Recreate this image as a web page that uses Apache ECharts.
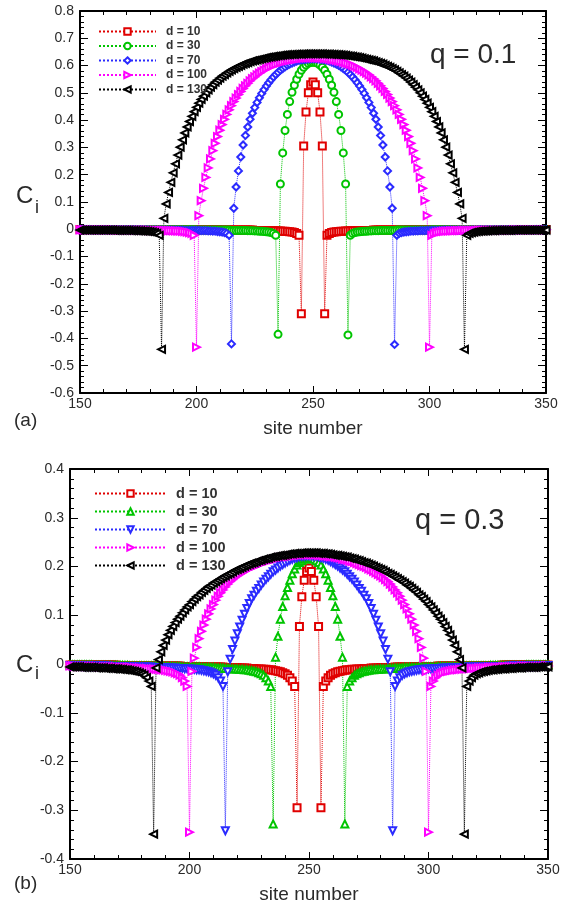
<!DOCTYPE html>
<html>
<head>
<meta charset="utf-8">
<script src="https://cdn.jsdelivr.net/npm/echarts@6/dist/echarts.min.js"></script>
<style>
  html, body { margin: 0; padding: 0; background: #fff; }
  #chart { width: 572px; height: 903px; }
</style>
</head>
<body>
<div id="chart"></div>
<script>
// site numbers 150..350 (x values shared by every series)
const sites = [];
for (let s = 150; s <= 350; s++) sites.push(s);

// ---- panel (a), q = 0.1 : C_i for sites 150..350 ----
const a_d10 = [
  -0.001,-0.001,-0.001,-0.001,-0.001,-0.001,-0.001,-0.001,-0.001,-0.001,
  -0.001,-0.001,-0.001,-0.001,-0.001,-0.001,-0.001,-0.001,-0.001,-0.001,
  -0.001,-0.001,-0.001,-0.001,-0.001,-0.001,-0.001,-0.001,-0.001,-0.001,
  -0.001,-0.001,-0.001,-0.001,-0.001,
  -0.002,-0.002,-0.002,-0.002,-0.002,-0.002,-0.002,-0.002,-0.002,-0.002,
  -0.002,-0.002,-0.002,-0.002,-0.002,-0.002,-0.002,-0.002,-0.002,-0.002,
  -0.002,-0.002,-0.002,-0.002,-0.002,
  -0.003,-0.003,-0.003,-0.003,-0.003,-0.003,-0.003,-0.003,-0.003,-0.003,
  -0.003,-0.003,-0.003,-0.003,-0.003,
  -0.004,-0.004,-0.004,-0.004,-0.004,-0.004,-0.004,
  -0.005,-0.005,-0.005,-0.006,-0.006,-0.007,-0.007,-0.008,-0.009,-0.010,-0.012,-0.015,-0.022,
  -0.31,0.305,0.43,0.50,0.53,0.54,0.53,0.50,0.43,0.305,-0.31,
  -0.022,-0.015,-0.012,-0.010,-0.009,-0.008,-0.007,-0.007,-0.006,-0.006,-0.005,-0.005,-0.005,
  -0.004,-0.004,-0.004,-0.004,-0.004,-0.004,-0.004,
  -0.003,-0.003,-0.003,-0.003,-0.003,-0.003,-0.003,-0.003,-0.003,-0.003,
  -0.003,-0.003,-0.003,-0.003,-0.003,
  -0.002,-0.002,-0.002,-0.002,-0.002,-0.002,-0.002,-0.002,-0.002,-0.002,
  -0.002,-0.002,-0.002,-0.002,-0.002,-0.002,-0.002,-0.002,-0.002,-0.002,
  -0.002,-0.002,-0.002,-0.002,-0.002,
  -0.001,-0.001,-0.001,-0.001,-0.001,-0.001,-0.001,-0.001,-0.001,-0.001,
  -0.001,-0.001,-0.001,-0.001,-0.001,-0.001,-0.001,-0.001,-0.001,-0.001,
  -0.001,-0.001,-0.001,-0.001,-0.001,-0.001,-0.001,-0.001,-0.001,-0.001,
  -0.001,-0.001,-0.001,-0.001,-0.001
];
const a_d30 = [
  -0.001,-0.001,-0.001,-0.001,-0.001,-0.001,-0.001,-0.001,-0.001,-0.001,
  -0.001,-0.001,-0.001,-0.001,-0.001,-0.001,-0.001,-0.001,-0.001,-0.001,
  -0.001,-0.001,-0.001,-0.001,-0.001,
  -0.002,-0.002,-0.002,-0.002,-0.002,-0.002,-0.002,-0.002,-0.002,-0.002,
  -0.002,-0.002,-0.002,-0.002,-0.002,-0.002,-0.002,-0.002,-0.002,-0.002,
  -0.002,-0.002,-0.002,-0.002,-0.002,
  -0.003,-0.003,-0.003,-0.003,-0.003,-0.003,-0.003,-0.003,-0.003,-0.003,
  -0.003,-0.003,-0.003,-0.003,-0.003,
  -0.004,-0.004,-0.004,-0.004,-0.004,-0.004,-0.004,
  -0.005,-0.005,-0.005,-0.006,-0.006,-0.007,-0.007,-0.008,-0.009,-0.010,-0.012,-0.015,-0.022,
  -0.385,
  0.166,0.28,0.362,0.421,0.468,0.502,0.528,0.55,0.568,0.583,0.594,0.602,0.608,0.611,0.612,
  0.611,0.608,0.602,0.594,0.583,0.568,0.55,0.528,0.502,0.468,0.421,0.362,0.28,0.166,
  -0.387,
  -0.022,-0.015,-0.012,-0.010,-0.009,-0.008,-0.007,-0.007,-0.006,-0.006,-0.005,-0.005,-0.005,
  -0.004,-0.004,-0.004,-0.004,-0.004,-0.004,-0.004,
  -0.003,-0.003,-0.003,-0.003,-0.003,-0.003,-0.003,-0.003,-0.003,-0.003,
  -0.003,-0.003,-0.003,-0.003,-0.003,
  -0.002,-0.002,-0.002,-0.002,-0.002,-0.002,-0.002,-0.002,-0.002,-0.002,
  -0.002,-0.002,-0.002,-0.002,-0.002,-0.002,-0.002,-0.002,-0.002,-0.002,
  -0.002,-0.002,-0.002,-0.002,-0.002,
  -0.001,-0.001,-0.001,-0.001,-0.001,-0.001,-0.001,-0.001,-0.001,-0.001,
  -0.001,-0.001,-0.001,-0.001,-0.001,-0.001,-0.001,-0.001,-0.001,-0.001,
  -0.001,-0.001,-0.001,-0.001,-0.001
];
const a_d70 = [
  -0.001,-0.001,-0.001,-0.001,-0.001,
  -0.002,-0.002,-0.002,-0.002,-0.002,-0.002,-0.002,-0.002,-0.002,-0.002,
  -0.002,-0.002,-0.002,-0.002,-0.002,-0.002,-0.002,-0.002,-0.002,-0.002,
  -0.002,-0.002,-0.002,-0.002,-0.002,
  -0.003,-0.003,-0.003,-0.003,-0.003,-0.003,-0.003,-0.003,-0.003,-0.003,
  -0.003,-0.003,-0.003,-0.003,-0.003,
  -0.004,-0.004,-0.004,-0.004,-0.004,-0.004,-0.004,
  -0.005,-0.005,-0.005,-0.006,-0.006,-0.007,-0.007,-0.008,-0.009,-0.010,-0.012,-0.015,-0.022,
  -0.42,
  0.077,0.155,0.214,0.265,0.309,0.344,0.375,0.403,0.425,0.446,0.465,0.482,0.498,0.512,0.525,0.537,0.548,
  0.558,0.567,0.575,0.583,0.589,0.595,0.601,0.605,0.609,0.613,0.616,0.619,0.621,0.622,0.623,0.624,0.625,
  0.625,
  0.625,0.624,0.623,0.622,0.621,0.619,0.616,0.613,0.609,0.605,0.601,0.595,0.589,0.583,0.575,0.567,0.558,
  0.548,0.537,0.525,0.512,0.498,0.482,0.465,0.446,0.425,0.403,0.375,0.344,0.309,0.265,0.214,0.155,0.077,
  -0.422,
  -0.022,-0.015,-0.012,-0.010,-0.009,-0.008,-0.007,-0.007,-0.006,-0.006,-0.005,-0.005,-0.005,
  -0.004,-0.004,-0.004,-0.004,-0.004,-0.004,-0.004,
  -0.003,-0.003,-0.003,-0.003,-0.003,-0.003,-0.003,-0.003,-0.003,-0.003,
  -0.003,-0.003,-0.003,-0.003,-0.003,
  -0.002,-0.002,-0.002,-0.002,-0.002,-0.002,-0.002,-0.002,-0.002,-0.002,
  -0.002,-0.002,-0.002,-0.002,-0.002,-0.002,-0.002,-0.002,-0.002,-0.002,
  -0.002,-0.002,-0.002,-0.002,-0.002,
  -0.001,-0.001,-0.001,-0.001,-0.001
];
const a_d100 = [
  -0.002,-0.002,-0.002,-0.002,-0.002,-0.002,-0.002,-0.002,-0.002,-0.002,
  -0.002,-0.002,-0.002,-0.002,-0.002,
  -0.003,-0.003,-0.003,-0.003,-0.003,-0.003,-0.003,-0.003,-0.003,-0.003,
  -0.003,-0.003,-0.003,-0.003,-0.003,
  -0.004,-0.004,-0.004,-0.004,-0.004,-0.004,-0.004,
  -0.005,-0.005,-0.005,-0.006,-0.006,-0.007,-0.007,-0.008,-0.009,-0.010,-0.012,-0.015,-0.022,
  -0.432,
  0.05,0.105,0.15,0.19,0.225,0.258,0.288,0.315,0.34,0.363,0.384,0.403,0.421,0.438,0.453,0.468,0.481,
  0.494,0.505,0.516,0.526,0.535,0.544,0.552,0.559,0.566,0.572,0.578,0.583,0.588,0.593,0.597,0.601,
  0.604,0.607,0.61,0.613,0.615,0.617,0.619,0.621,0.622,0.624,0.625,0.626,0.627,0.627,0.628,0.628,
  0.628,
  0.628,0.628,0.627,0.627,0.626,0.625,0.624,0.622,0.621,0.619,0.617,0.615,0.613,0.61,0.607,0.604,
  0.601,0.597,0.593,0.588,0.583,0.578,0.572,0.566,0.559,0.552,0.544,0.535,0.526,0.516,0.505,0.494,
  0.481,0.468,0.453,0.438,0.421,0.403,0.384,0.363,0.34,0.315,0.288,0.258,0.225,0.19,0.15,0.105,0.05,
  -0.432,
  -0.022,-0.015,-0.012,-0.010,-0.009,-0.008,-0.007,-0.007,-0.006,-0.006,-0.005,-0.005,-0.005,
  -0.004,-0.004,-0.004,-0.004,-0.004,-0.004,-0.004,
  -0.003,-0.003,-0.003,-0.003,-0.003,-0.003,-0.003,-0.003,-0.003,-0.003,
  -0.003,-0.003,-0.003,-0.003,-0.003,
  -0.002,-0.002,-0.002,-0.002,-0.002,-0.002,-0.002,-0.002,-0.002,-0.002,
  -0.002,-0.002,-0.002,-0.002,-0.002
];
const a_d130 = [
  -0.003,-0.003,-0.003,-0.003,-0.003,-0.003,-0.003,-0.003,-0.003,-0.003,
  -0.003,-0.003,-0.003,-0.003,-0.003,
  -0.004,-0.004,-0.004,-0.004,-0.004,-0.004,-0.004,
  -0.005,-0.005,-0.005,-0.006,-0.006,-0.007,-0.007,-0.008,-0.009,-0.010,-0.012,-0.015,-0.022,
  -0.44,
  0.04,0.093,0.135,0.172,0.207,0.24,0.272,0.301,0.328,0.353,0.375,0.395,0.414,0.431,0.447,0.462,
  0.476,0.488,0.5,0.511,0.521,0.53,0.539,0.547,0.554,0.561,0.567,0.573,0.579,0.584,0.589,0.593,
  0.597,0.601,0.605,0.608,0.611,0.614,0.617,0.619,0.621,0.623,0.625,0.627,0.629,0.631,0.632,0.634,
  0.635,0.636,0.637,0.638,0.639,0.64,0.64,0.641,0.641,0.642,0.642,0.642,0.643,0.643,0.643,0.643,
  0.643,
  0.643,0.643,0.643,0.643,0.642,0.642,0.642,0.641,0.641,0.64,0.64,0.639,0.638,0.637,0.636,0.635,
  0.634,0.632,0.631,0.629,0.627,0.625,0.623,0.621,0.619,0.617,0.614,0.611,0.608,0.605,0.601,0.597,
  0.593,0.589,0.584,0.579,0.573,0.567,0.561,0.554,0.547,0.539,0.53,0.521,0.511,0.5,0.488,0.476,
  0.462,0.447,0.431,0.414,0.395,0.375,0.353,0.328,0.301,0.272,0.24,0.207,0.172,0.135,0.093,0.04,
  -0.44,
  -0.022,-0.015,-0.012,-0.010,-0.009,-0.008,-0.007,-0.007,-0.006,-0.006,-0.005,-0.005,-0.005,
  -0.004,-0.004,-0.004,-0.004,-0.004,-0.004,-0.004,
  -0.003,-0.003,-0.003,-0.003,-0.003,-0.003,-0.003,-0.003,-0.003,-0.003,
  -0.003,-0.003,-0.003,-0.003,-0.003
];

// ---- panel (b), q = 0.3 ----
const b_d10 = [
  -0.002,-0.002,-0.002,-0.002,-0.002,-0.002,-0.002,-0.002,-0.002,-0.002,
  -0.002,-0.002,-0.002,-0.002,-0.002,-0.002,-0.002,-0.002,-0.002,-0.002,
  -0.003,-0.003,-0.003,-0.003,-0.003,-0.003,-0.003,-0.003,-0.003,-0.003,
  -0.003,-0.003,-0.003,-0.003,-0.003,
  -0.004,-0.004,-0.004,-0.004,-0.004,-0.004,-0.004,-0.004,-0.004,-0.004,-0.004,-0.004,
  -0.005,-0.005,-0.005,-0.005,-0.005,-0.005,-0.005,-0.005,-0.005,-0.005,
  -0.006,-0.006,-0.006,-0.006,-0.006,-0.006,-0.006,-0.006,
  -0.007,-0.007,-0.007,-0.007,-0.007,-0.007,
  -0.008,-0.008,-0.008,-0.008,
  -0.009,-0.009,-0.009,-0.010,-0.010,-0.010,-0.011,-0.011,-0.012,-0.012,
  -0.013,-0.014,-0.015,-0.016,-0.018,-0.020,-0.023,-0.028,-0.035,-0.046,
  -0.295,0.077,0.138,0.172,0.19,0.197,0.19,0.172,0.138,0.077,-0.295,
  -0.046,-0.035,-0.028,-0.023,-0.020,-0.018,-0.016,-0.015,-0.014,-0.013,
  -0.012,-0.012,-0.011,-0.011,-0.010,-0.010,-0.010,-0.009,-0.009,-0.009,
  -0.008,-0.008,-0.008,-0.008,
  -0.007,-0.007,-0.007,-0.007,-0.007,-0.007,
  -0.006,-0.006,-0.006,-0.006,-0.006,-0.006,-0.006,-0.006,
  -0.005,-0.005,-0.005,-0.005,-0.005,-0.005,-0.005,-0.005,-0.005,-0.005,
  -0.004,-0.004,-0.004,-0.004,-0.004,-0.004,-0.004,-0.004,-0.004,-0.004,-0.004,-0.004,
  -0.003,-0.003,-0.003,-0.003,-0.003,-0.003,-0.003,-0.003,-0.003,-0.003,
  -0.003,-0.003,-0.003,-0.003,-0.003,
  -0.002,-0.002,-0.002,-0.002,-0.002,-0.002,-0.002,-0.002,-0.002,-0.002,
  -0.002,-0.002,-0.002,-0.002,-0.002,-0.002,-0.002,-0.002,-0.002,-0.002
];
const b_d30 = [
  -0.002,-0.002,-0.002,-0.002,-0.002,-0.002,-0.002,-0.002,-0.002,-0.002,
  -0.003,-0.003,-0.003,-0.003,-0.003,-0.003,-0.003,-0.003,-0.003,-0.003,
  -0.003,-0.003,-0.003,-0.003,-0.003,
  -0.004,-0.004,-0.004,-0.004,-0.004,-0.004,-0.004,-0.004,-0.004,-0.004,-0.004,-0.004,
  -0.005,-0.005,-0.005,-0.005,-0.005,-0.005,-0.005,-0.005,-0.005,-0.005,
  -0.006,-0.006,-0.006,-0.006,-0.006,-0.006,-0.006,-0.006,
  -0.007,-0.007,-0.007,-0.007,-0.007,-0.007,
  -0.008,-0.008,-0.008,-0.008,
  -0.009,-0.009,-0.009,-0.010,-0.010,-0.010,-0.011,-0.011,-0.012,-0.012,
  -0.013,-0.014,-0.015,-0.016,-0.018,-0.020,-0.023,-0.028,-0.035,-0.046,
  -0.328,
  0.014,0.057,0.092,0.118,0.14,0.157,0.172,0.185,0.195,0.203,0.208,0.212,0.215,0.217,0.218,
  0.217,0.215,0.212,0.208,0.203,0.195,0.185,0.172,0.157,0.14,0.118,0.092,0.057,0.014,
  -0.328,
  -0.046,-0.035,-0.028,-0.023,-0.020,-0.018,-0.016,-0.015,-0.014,-0.013,
  -0.012,-0.012,-0.011,-0.011,-0.010,-0.010,-0.010,-0.009,-0.009,-0.009,
  -0.008,-0.008,-0.008,-0.008,
  -0.007,-0.007,-0.007,-0.007,-0.007,-0.007,
  -0.006,-0.006,-0.006,-0.006,-0.006,-0.006,-0.006,-0.006,
  -0.005,-0.005,-0.005,-0.005,-0.005,-0.005,-0.005,-0.005,-0.005,-0.005,
  -0.004,-0.004,-0.004,-0.004,-0.004,-0.004,-0.004,-0.004,-0.004,-0.004,-0.004,-0.004,
  -0.003,-0.003,-0.003,-0.003,-0.003,-0.003,-0.003,-0.003,-0.003,-0.003,
  -0.003,-0.003,-0.003,-0.003,-0.003,
  -0.002,-0.002,-0.002,-0.002,-0.002,-0.002,-0.002,-0.002,-0.002,-0.002
];
const b_d70 = [
  -0.003,-0.003,-0.003,-0.003,-0.003,
  -0.004,-0.004,-0.004,-0.004,-0.004,-0.004,-0.004,-0.004,-0.004,-0.004,-0.004,-0.004,
  -0.005,-0.005,-0.005,-0.005,-0.005,-0.005,-0.005,-0.005,-0.005,-0.005,
  -0.006,-0.006,-0.006,-0.006,-0.006,-0.006,-0.006,-0.006,
  -0.007,-0.007,-0.007,-0.007,-0.007,-0.007,
  -0.008,-0.008,-0.008,-0.008,
  -0.009,-0.009,-0.009,-0.010,-0.010,-0.010,-0.011,-0.011,-0.012,-0.012,
  -0.013,-0.014,-0.015,-0.016,-0.018,-0.020,-0.023,-0.028,-0.035,-0.046,
  -0.342,
  -0.016,0.01,0.03,0.047,0.062,0.076,0.09,0.102,0.114,0.124,0.134,0.141,0.149,0.155,0.162,0.168,0.174,
  0.179,0.184,0.189,0.193,0.197,0.201,0.204,0.207,0.21,0.213,0.215,0.217,0.218,0.22,0.221,0.221,0.222,
  0.222,
  0.222,0.221,0.221,0.22,0.218,0.217,0.215,0.213,0.21,0.207,0.204,0.201,0.197,0.193,0.189,0.184,0.179,
  0.174,0.168,0.162,0.155,0.149,0.141,0.134,0.124,0.114,0.102,0.09,0.076,0.062,0.047,0.03,0.01,-0.016,
  -0.342,
  -0.046,-0.035,-0.028,-0.023,-0.020,-0.018,-0.016,-0.015,-0.014,-0.013,
  -0.012,-0.012,-0.011,-0.011,-0.010,-0.010,-0.010,-0.009,-0.009,-0.009,
  -0.008,-0.008,-0.008,-0.008,
  -0.007,-0.007,-0.007,-0.007,-0.007,-0.007,
  -0.006,-0.006,-0.006,-0.006,-0.006,-0.006,-0.006,-0.006,
  -0.005,-0.005,-0.005,-0.005,-0.005,-0.005,-0.005,-0.005,-0.005,-0.005,
  -0.004,-0.004,-0.004,-0.004,-0.004,-0.004,-0.004,-0.004,-0.004,-0.004,-0.004,-0.004,
  -0.003,-0.003,-0.003,-0.003,-0.003
];
const b_d100 = [
  -0.004,-0.004,
  -0.005,-0.005,-0.005,-0.005,-0.005,-0.005,-0.005,-0.005,-0.005,-0.005,
  -0.006,-0.006,-0.006,-0.006,-0.006,-0.006,-0.006,-0.006,
  -0.007,-0.007,-0.007,-0.007,-0.007,-0.007,
  -0.008,-0.008,-0.008,-0.008,
  -0.009,-0.009,-0.009,-0.010,-0.010,-0.010,-0.011,-0.011,-0.012,-0.012,
  -0.013,-0.014,-0.015,-0.016,-0.018,-0.020,-0.023,-0.028,-0.035,-0.046,
  -0.345,
  -0.015,0.012,0.034,0.052,0.067,0.08,0.092,0.103,0.113,0.122,0.131,0.139,0.146,0.152,0.158,0.164,0.169,
  0.173,0.177,0.181,0.184,0.187,0.19,0.193,0.195,0.198,0.2,0.202,0.204,0.206,0.208,0.21,0.211,
  0.213,0.214,0.215,0.217,0.218,0.219,0.22,0.22,0.221,0.222,0.222,0.223,0.223,0.224,0.224,0.224,
  0.224,
  0.224,0.224,0.224,0.223,0.223,0.222,0.222,0.221,0.22,0.22,0.219,0.218,0.217,0.215,0.214,0.213,
  0.211,0.21,0.208,0.206,0.204,0.202,0.2,0.198,0.195,0.193,0.19,0.187,0.184,0.181,0.177,0.173,
  0.169,0.164,0.158,0.152,0.146,0.139,0.131,0.122,0.113,0.103,0.092,0.08,0.067,0.052,0.034,0.012,-0.015,
  -0.345,
  -0.046,-0.035,-0.028,-0.023,-0.020,-0.018,-0.016,-0.015,-0.014,-0.013,
  -0.012,-0.012,-0.011,-0.011,-0.010,-0.010,-0.010,-0.009,-0.009,-0.009,
  -0.008,-0.008,-0.008,-0.008,
  -0.007,-0.007,-0.007,-0.007,-0.007,-0.007,
  -0.006,-0.006,-0.006,-0.006,-0.006,-0.006,-0.006,-0.006,
  -0.005,-0.005,-0.005,-0.005,-0.005,-0.005,-0.005,-0.005,-0.005,-0.005,
  -0.004,-0.004
];
const b_d130 = [
  -0.006,-0.006,-0.006,-0.006,-0.006,
  -0.007,-0.007,-0.007,-0.007,-0.007,-0.007,
  -0.008,-0.008,-0.008,-0.008,
  -0.009,-0.009,-0.009,-0.010,-0.010,-0.010,-0.011,-0.011,-0.012,-0.012,
  -0.013,-0.014,-0.015,-0.016,-0.018,-0.020,-0.023,-0.028,-0.035,-0.046,
  -0.349,
  -0.008,0.009,0.025,0.038,0.049,0.06,0.069,0.077,0.085,0.092,0.098,0.105,0.111,0.117,0.122,0.128,
  0.133,0.138,0.142,0.147,0.151,0.155,0.159,0.162,0.166,0.169,0.172,0.175,0.178,0.181,0.184,0.186,
  0.189,0.192,0.194,0.196,0.198,0.201,0.203,0.205,0.207,0.208,0.21,0.212,0.213,0.215,0.216,0.217,
  0.219,0.22,0.221,0.222,0.223,0.223,0.224,0.225,0.226,0.226,0.227,0.227,0.227,0.228,0.228,0.228,
  0.228,
  0.228,0.228,0.228,0.227,0.227,0.227,0.226,0.226,0.225,0.224,0.223,0.223,0.222,0.221,0.22,0.219,
  0.217,0.216,0.215,0.213,0.212,0.21,0.208,0.207,0.205,0.203,0.201,0.198,0.196,0.194,0.192,0.189,
  0.186,0.184,0.181,0.178,0.175,0.172,0.169,0.166,0.162,0.159,0.155,0.151,0.147,0.142,0.138,0.133,
  0.128,0.122,0.117,0.111,0.105,0.098,0.092,0.085,0.077,0.069,0.06,0.049,0.038,0.025,0.009,-0.008,
  -0.349,
  -0.046,-0.035,-0.028,-0.023,-0.020,-0.018,-0.016,-0.015,-0.014,-0.013,
  -0.012,-0.012,-0.011,-0.011,-0.010,-0.010,-0.010,-0.009,-0.009,-0.009,
  -0.008,-0.008,-0.008,-0.008,
  -0.007,-0.007,-0.007,-0.007,-0.007,-0.007,
  -0.006,-0.006,-0.006,-0.006,-0.006
];

const FONT = 'Liberation Sans, Arial, Helvetica, sans-serif';
const TXT = '#2a2a2a';
const RED = '#e00000', GREEN = '#00c400', BLUE = '#2b2bff', MAGENTA = '#ff00ff', BLACK = '#000000';

const seriesA = [
  { name: 'a10', values: a_d10, color: RED, symbol: 'emptyRect', rotate: 0 },
  { name: 'a30', values: a_d30, color: GREEN, symbol: 'emptyCircle', rotate: 0 },
  { name: 'a70', values: a_d70, color: BLUE, symbol: 'emptyDiamond', rotate: 0 },
  { name: 'a100', values: a_d100, color: MAGENTA, symbol: 'emptyTriangle', rotate: -90 },
  { name: 'a130', values: a_d130, color: BLACK, symbol: 'emptyTriangle', rotate: 90 }
];
const seriesB = [
  { name: 'b10', values: b_d10, color: RED, symbol: 'emptyRect', rotate: 0 },
  { name: 'b30', values: b_d30, color: GREEN, symbol: 'emptyTriangle', rotate: 0 },
  { name: 'b70', values: b_d70, color: BLUE, symbol: 'emptyTriangle', rotate: 180 },
  { name: 'b100', values: b_d100, color: MAGENTA, symbol: 'emptyTriangle', rotate: -90 },
  { name: 'b130', values: b_d130, color: BLACK, symbol: 'emptyTriangle', rotate: 90 }
];

[...seriesA, ...seriesB].forEach(s => {
  if (s.values.length !== sites.length) throw new Error(s.name + ' has ' + s.values.length + ' values');
});

function makeLine(s, axisIdx) {
  return {
    name: s.name,
    type: 'line',
    xAxisIndex: axisIdx,
    yAxisIndex: axisIdx,
    data: s.values.map((v, i) => [sites[i], v]),
    symbol: s.symbol,
    symbolSize: 7,
    symbolRotate: s.rotate,
    showSymbol: true,
    lineStyle: { color: s.color, width: 1, type: 'dotted' },
    itemStyle: { color: s.color, borderColor: s.color, borderWidth: 1 },
    emphasis: { disabled: true },
    animation: false,
    silent: true
  };
}

function xAxis(grid, pos, labels) {
  return {
    type: 'value', gridIndex: grid, position: pos,
    min: 150, max: 350, interval: 50,
    axisLine: { show: true, onZero: false, lineStyle: { color: '#000', width: 2 } },
    axisTick: { show: true, inside: true, length: 7, lineStyle: { color: '#000', width: 1 } },
    minorTick: { show: true, splitNumber: 5, length: 4, lineStyle: { color: '#000', width: 1 } },
    splitLine: { show: false },
    axisLabel: { show: labels, margin: 4, fontSize: 14, color: TXT, fontFamily: FONT },
    name: labels ? 'site number' : '',
    nameLocation: 'middle', nameGap: 26,
    nameTextStyle: { fontSize: 19, color: TXT, fontFamily: FONT }
  };
}

function yAxis(grid, pos, min, max, labels) {
  return {
    type: 'value', gridIndex: grid, position: pos,
    min: min, max: max, interval: 0.1,
    axisLine: { show: true, onZero: false, lineStyle: { color: '#000', width: 2 } },
    axisTick: { show: true, inside: true, length: 8, lineStyle: { color: '#000', width: 1 } },
    minorTick: { show: true, splitNumber: 5, length: 4, lineStyle: { color: '#000', width: 1 } },
    splitLine: { show: false },
    axisLabel: { show: labels, margin: 6, fontSize: 14, color: TXT, fontFamily: FONT }
  };
}

function legend(names, left, top, itemWidth, fontSize, lineHeight, gap) {
  return {
    data: names, orient: 'vertical', left: left, top: top,
    itemWidth: itemWidth, itemHeight: 8, itemGap: gap,
    selectedMode: false,
    formatter: n => 'd = ' + n.slice(1),
    textStyle: { fontFamily: FONT, fontWeight: 'bold', fontSize: fontSize, color: '#333',
                 lineHeight: lineHeight, padding: [0, 0, 0, 5] }
  };
}

function label(text, x, y, size) {
  return { type: 'text', x: x, y: y, silent: true,
    style: { text: text, fontSize: size, fontFamily: FONT, fill: TXT, verticalAlign: 'middle' } };
}

const chart = echarts.init(document.getElementById('chart'), null, { renderer: 'canvas' });
chart.setOption({
  backgroundColor: '#fff',
  animation: false,
  grid: [
    { left: 80, top: 11, width: 466, height: 382, outerBoundsMode: 'none' },
    { left: 70, top: 469, width: 478, height: 390, outerBoundsMode: 'none' }
  ],
  xAxis: [xAxis(0, 'bottom', true), xAxis(0, 'top', false), xAxis(1, 'bottom', true), xAxis(1, 'top', false)],
  yAxis: [yAxis(0, 'left', -0.6, 0.8, true), yAxis(0, 'right', -0.6, 0.8, false),
          yAxis(1, 'left', -0.4, 0.4, true), yAxis(1, 'right', -0.4, 0.4, false)],
  legend: [
    legend(seriesA.map(s => s.name), 93, 20, 57, 12, 13, 1.5),
    legend(seriesB.map(s => s.name), 89, 481, 71, 14.5, 15, 3)
  ],
  graphic: [
    label('C', 16, 196, 24), label('i', 35, 208, 18),
    label('C', 16, 665, 24), label('i', 35, 674, 18),
    label('(a)', 14, 421, 19), label('(b)', 14, 884, 19),
    label('q = 0.1', 430, 55, 28), label('q = 0.3', 415, 521, 29)
  ],
  series: [...seriesA.map(s => makeLine(s, 0)), ...seriesB.map(s => makeLine(s, 2))]
});
</script>
</body>
</html>
